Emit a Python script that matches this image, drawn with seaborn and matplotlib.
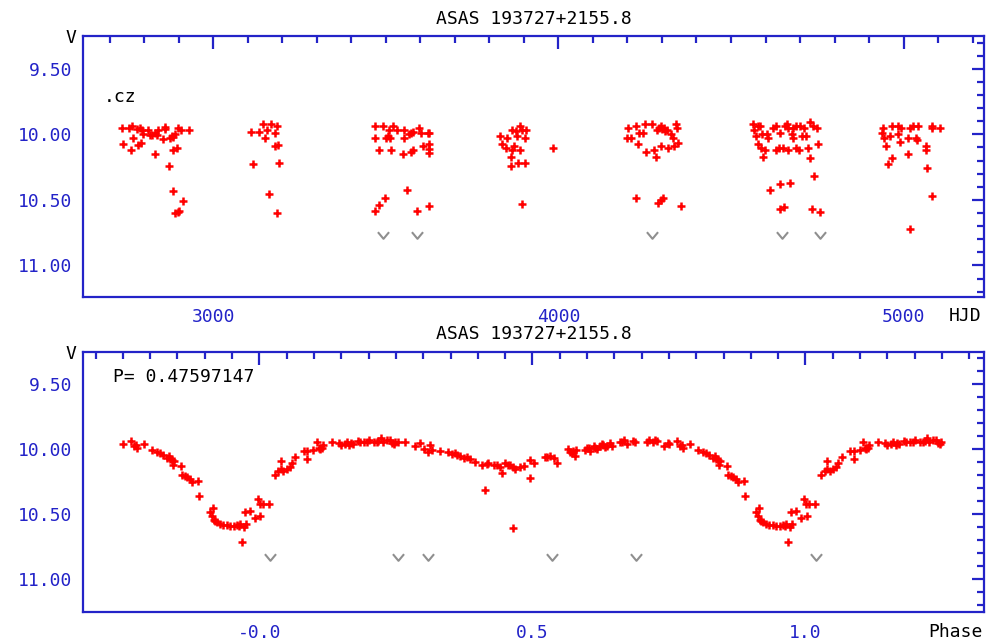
import numpy as np
import pandas as pd
import matplotlib
matplotlib.use("Agg")
import matplotlib.pyplot as plt
import seaborn as sns
from matplotlib.path import Path
from matplotlib.ticker import MultipleLocator, FixedLocator, FixedFormatter

# --- data ---
star_name = "ASAS 193727+2155.8"
period_label = "P= 0.47597147"

hjd = [2737, 2756, 2764, 2778, 2788, 2793, 2812, 2817, 2831, 2836, 2841, 2860, 2860,
       2880, 2889, 2897, 2908, 2930, 2769, 2798, 2822, 2856, 2875, 2884, 2739, 2762,
       2783, 2791, 2831, 2884, 2894, 2872, 2884, 2912, 2889, 2901, 2897,
       3109, 3132, 3143, 3157, 3167, 3178, 3186, 3149, 3180, 3188, 3116, 3190, 3161, 3185,
       3470, 3491, 3509, 3520, 3532, 3554, 3573, 3578, 3595, 3602, 3621, 3626, 3468,
       3501, 3506, 3513, 3554, 3567, 3480, 3515, 3549, 3573, 3580, 3607, 3624, 3624,
       3624, 3561, 3497, 3480, 3468, 3590, 3624,
       3832, 3850, 3867, 3877, 3888, 3896, 3907, 3879, 3902, 3838, 3848, 3871, 3867,
       3890, 3862, 3862, 3884, 3902, 3983, 3896,
       4201, 4226, 4250, 4272, 4291, 4296, 4301, 4305, 4310, 4286, 4315, 4340, 4344,
       4200, 4211, 4233, 4246, 4327, 4332, 4230, 4255, 4278, 4284, 4296, 4317, 4336,
       4346, 4225, 4288, 4296, 4304, 4354,
       4565, 4577, 4585, 4567, 4573, 4590, 4604, 4606, 4623, 4631, 4643, 4657, 4662,
       4666, 4681, 4689, 4700, 4712, 4729, 4737, 4748, 4577, 4587, 4599, 4594, 4631,
       4639, 4652, 4664, 4677, 4681, 4689, 4696, 4706, 4718, 4723, 4752, 4729, 4614,
       4641, 4671, 4741, 4643, 4654, 4735, 4758,
       4936, 4941, 4965, 4985, 4992, 5018, 5028, 5042, 5081, 5083, 5105, 4944, 4960,
       4985, 4989, 5013, 5035, 5038, 4948, 5066, 5066, 4967, 5013, 4956, 5069, 5081, 5018]
hjd_mag = [9.954, 9.949, 9.939, 9.962, 9.954, 9.969, 9.969, 10.005, 9.987, 10.005, 9.969, 9.962, 9.944,
           10.012, 10.000, 9.954, 9.969, 9.969, 10.030, 10.000, 10.005, 10.038, 10.030, 10.020, 10.076, 10.122,
           10.081, 10.066, 10.152, 10.122, 10.107, 10.244, 10.432, 10.509, 10.598, 10.585, 10.590,
           9.984, 9.984, 9.923, 9.969, 9.923, 9.987, 9.936, 10.030, 10.091, 10.081, 10.229, 10.216, 10.458, 10.598,
           9.939, 9.939, 9.969, 9.939, 9.969, 9.969, 9.987, 9.979, 9.954, 9.987, 9.987, 9.987, 10.030,
           10.030, 10.015, 10.025, 10.030, 10.000, 10.117, 10.122, 10.152, 10.132, 10.122, 10.091, 10.076, 10.112,
           10.142, 10.427, 10.488, 10.539, 10.585, 10.585, 10.549,
           10.015, 10.030, 9.969, 9.974, 9.939, 9.969, 9.969, 10.015, 10.030, 10.076, 10.107, 10.091, 10.117,
           10.122, 10.173, 10.244, 10.216, 10.216, 10.107, 10.534,
           9.954, 9.939, 9.923, 9.923, 9.954, 9.939, 9.962, 9.949, 9.974, 9.964, 9.969, 9.923, 9.954,
           10.030, 10.030, 9.987, 9.987, 10.000, 10.030, 10.076, 10.137, 10.122, 10.173, 10.091, 10.107, 10.091,
           10.066, 10.488, 10.521, 10.504, 10.488, 10.549,
           9.923, 9.939, 9.939, 9.969, 10.015, 10.000, 10.000, 10.030, 9.954, 9.939, 9.987, 9.939, 9.923,
           9.954, 9.954, 9.939, 9.939, 9.954, 9.908, 9.939, 9.954, 10.076, 10.107, 10.122, 10.173, 10.122,
           10.107, 10.107, 10.122, 10.000, 10.030, 10.107, 10.122, 10.015, 10.015, 10.107, 10.076, 10.183, 10.427,
           10.381, 10.369, 10.320, 10.572, 10.554, 10.570, 10.595,
           9.987, 9.954, 9.939, 9.939, 9.954, 9.954, 9.939, 9.939, 9.939, 9.954, 9.954, 10.030, 10.015,
           10.000, 10.061, 10.030, 10.030, 10.046, 10.091, 10.091, 10.122, 10.183, 10.152, 10.229, 10.259, 10.470, 10.720]

hjd_limit = [3491, 3590, 4272, 4648, 4758]
hjd_limit_mag = [10.765, 10.765, 10.765, 10.765, 10.765]

phase = [0.751, 0.764, 0.771, 0.774, 0.775, 0.788, 0.803, 0.812, 0.818, 0.824, 0.830, 0.834,
         0.837, 0.840, 0.843, 0.841, 0.856, 0.858, 0.864, 0.868, 0.873, 0.876, 0.887, 0.890,
         0.910, 0.915, 0.913, 0.917, 0.922, 0.928, 0.934, 0.946, 0.953, 0.959, 0.965, 0.971,
         0.976, 0.973, 0.983, 0.992, 0.998, 0.968, 0.919, 0.940, 0.962,
         0.002, 0.001, 0.007, 0.018, 0.028, 0.035, 0.039, 0.044, 0.050, 0.056, 0.059, 0.066,
         0.039, 0.081, 0.088, 0.088, 0.099, 0.105, 0.109, 0.111, 0.117,
         0.114, 0.133, 0.145, 0.149, 0.160, 0.165, 0.172, 0.181, 0.191, 0.200, 0.209, 0.218,
         0.222, 0.227, 0.239, 0.246, 0.253, 0.267, 0.285, 0.294, 0.302, 0.308, 0.313, 0.316,
         0.157, 0.167, 0.184, 0.197, 0.215, 0.233, 0.243, 0.249,
         0.330, 0.346, 0.352, 0.358, 0.368, 0.374, 0.385, 0.395, 0.407, 0.419, 0.429, 0.441,
         0.444, 0.450, 0.456, 0.465, 0.468, 0.484, 0.496, 0.502, 0.495, 0.526, 0.413, 0.465,
         0.361, 0.380, 0.416, 0.435, 0.459, 0.478,
         0.523, 0.532, 0.539, 0.545, 0.566, 0.572, 0.580, 0.578, 0.600, 0.606, 0.612, 0.618,
         0.627, 0.633, 0.642, 0.645, 0.664, 0.667, 0.674, 0.688, 0.714, 0.720, 0.728, 0.741,
         0.749, 0.569, 0.575, 0.597, 0.603, 0.615, 0.623, 0.630, 0.636, 0.661, 0.685, 0.709,
         0.725]
phase_mag = [9.965, 9.937, 9.975, 9.970, 9.990, 9.965, 10.005, 10.021, 10.031, 10.046, 10.066, 10.056,
             10.077, 10.087, 10.092, 10.122, 10.132, 10.204, 10.209, 10.219, 10.229, 10.255, 10.244, 10.364,
             10.489, 10.453, 10.514, 10.547, 10.565, 10.575, 10.585, 10.596, 10.591, 10.585, 10.580, 10.598,
             10.580, 10.489, 10.479, 10.535, 10.382, 10.718, 10.555, 10.585, 10.591,
             10.514, 10.423, 10.428, 10.428, 10.199, 10.173, 10.158, 10.173, 10.158, 10.140, 10.107, 10.061,
             10.092, 10.015, 10.015, 10.077, 10.005, 9.949, 9.990, 10.000, 9.970,
             9.995, 9.949, 9.954, 9.970, 9.944, 9.970, 9.962, 9.939, 9.949, 9.929, 9.944, 9.937,
             9.914, 9.949, 9.934, 9.962, 9.949, 9.949, 9.980, 9.954, 10.000, 10.021, 9.970, 10.005,
             9.962, 9.954, 9.949, 9.944, 9.949, 9.929, 9.954, 9.944,
             10.013, 10.021, 10.041, 10.031, 10.051, 10.066, 10.077, 10.097, 10.122, 10.107, 10.122, 10.138,
             10.183, 10.107, 10.127, 10.140, 10.153, 10.132, 10.089, 10.107, 10.224, 10.064, 10.318, 10.611,
             10.046, 10.064, 10.115, 10.127, 10.122, 10.140,
             10.064, 10.056, 10.071, 10.107, 10.000, 10.031, 10.005, 10.051, 9.995, 10.013, 9.980, 10.000,
             9.962, 9.987, 9.954, 9.975, 9.944, 9.929, 9.962, 9.944, 9.929, 9.944, 9.937, 9.980,
             9.954, 10.021, 10.013, 10.005, 9.995, 9.995, 9.980, 9.970, 9.975, 9.949, 9.937, 9.944,
             9.929]

phase_limit = [0.020, 0.253, 0.308, 0.536, 0.689]
phase_limit_mag = [10.83, 10.83, 10.83, 10.83, 10.83]

phase_ticks = [0.0, 0.5, 1.0]
phase_ticklabels = ["-0.0", "0.5", "1.0"]


def fold(ph, mag, lo=-0.25, hi=1.25):
    ph = np.asarray(ph)
    mag = np.asarray(mag)
    ph_all = np.concatenate([ph - 1, ph, ph + 1])
    mag_all = np.tile(mag, 3)
    keep = (ph_all >= lo) & (ph_all <= hi)
    return pd.DataFrame({"phase": ph_all[keep], "mag": mag_all[keep]})


BLUE = "#2323c8"
chevron = Path([(-1, 0.6), (0, -0.6), (1, 0.6)], [Path.MOVETO, Path.LINETO, Path.LINETO])

sns.set_style("white")
plt.rcParams["font.family"] = ["DejaVu Sans Mono"]

fig = plt.figure(figsize=(9.88, 6.44), dpi=100)
ax1 = fig.add_axes([0.084, 0.539, 0.912, 0.405])
ax2 = fig.add_axes([0.084, 0.049, 0.912, 0.405])

df_time = pd.DataFrame({"hjd": hjd, "mag": hjd_mag})
df_phase = fold(phase, phase_mag)
df_lim = fold(phase_limit, phase_limit_mag)

sns.scatterplot(data=df_time, x="hjd", y="mag", ax=ax1, marker="+", color="red",
                s=30, linewidth=1.8, legend=False)
ax1.plot(hjd_limit, hjd_limit_mag, linestyle="none", marker=chevron, markersize=8,
         markerfacecolor="none", markeredgecolor="#8f8f8f", markeredgewidth=1.5)

sns.scatterplot(data=df_phase, x="phase", y="mag", ax=ax2, marker="+", color="red",
                s=30, linewidth=1.8, legend=False)
ax2.plot(df_lim["phase"], df_lim["mag"], linestyle="none", marker=chevron, markersize=8,
         markerfacecolor="none", markeredgecolor="#8f8f8f", markeredgewidth=1.5)

ax1.set_xlim(2623, 5233)
ax2.set_xlim(-0.323, 1.327)
ax1.xaxis.set_major_locator(FixedLocator([3000, 4000, 5000]))
ax1.xaxis.set_minor_locator(MultipleLocator(100))
ax2.xaxis.set_major_locator(FixedLocator(phase_ticks))
ax2.xaxis.set_major_formatter(FixedFormatter(phase_ticklabels))
ax2.xaxis.set_minor_locator(MultipleLocator(0.05))

for ax, ylo in ((ax1, 11.24), (ax2, 11.26)):
    ax.set_ylim(ylo, 9.25)
    ax.yaxis.set_major_locator(MultipleLocator(0.5))
    ax.yaxis.set_minor_locator(MultipleLocator(0.1))
    ax.yaxis.set_major_formatter(plt.FormatStrFormatter("%.2f"))
    ax.set_xlabel("")
    ax.set_ylabel("")
    for sp in ax.spines.values():
        sp.set_color(BLUE)
        sp.set_linewidth(1.6)
    ax.tick_params(which="both", direction="in", top=True, right=True, color=BLUE,
                   width=1.6, labelcolor=BLUE, labelsize=13, pad=8)
    ax.tick_params(which="major", length=9)
    ax.tick_params(which="minor", length=5)
    ax.set_title(star_name, fontsize=13, color="black", pad=9)
    ax.text(-0.013, 0.992, "V", transform=ax.transAxes, ha="center", va="center",
            fontsize=13, color="black")

ax1.text(0.979, -0.073, "HJD", transform=ax1.transAxes, ha="center", va="center",
         fontsize=13, color="black")
ax2.text(0.968, -0.074, "Phase", transform=ax2.transAxes, ha="center", va="center",
         fontsize=13, color="black")
ax1.text(0.023, 0.766, ".cz", transform=ax1.transAxes, ha="left", va="center",
         fontsize=13, color="black")
ax2.text(0.033, 0.903, period_label, transform=ax2.transAxes, ha="left", va="center",
         fontsize=13, color="black")

fig.savefig("out.png", dpi=100)
